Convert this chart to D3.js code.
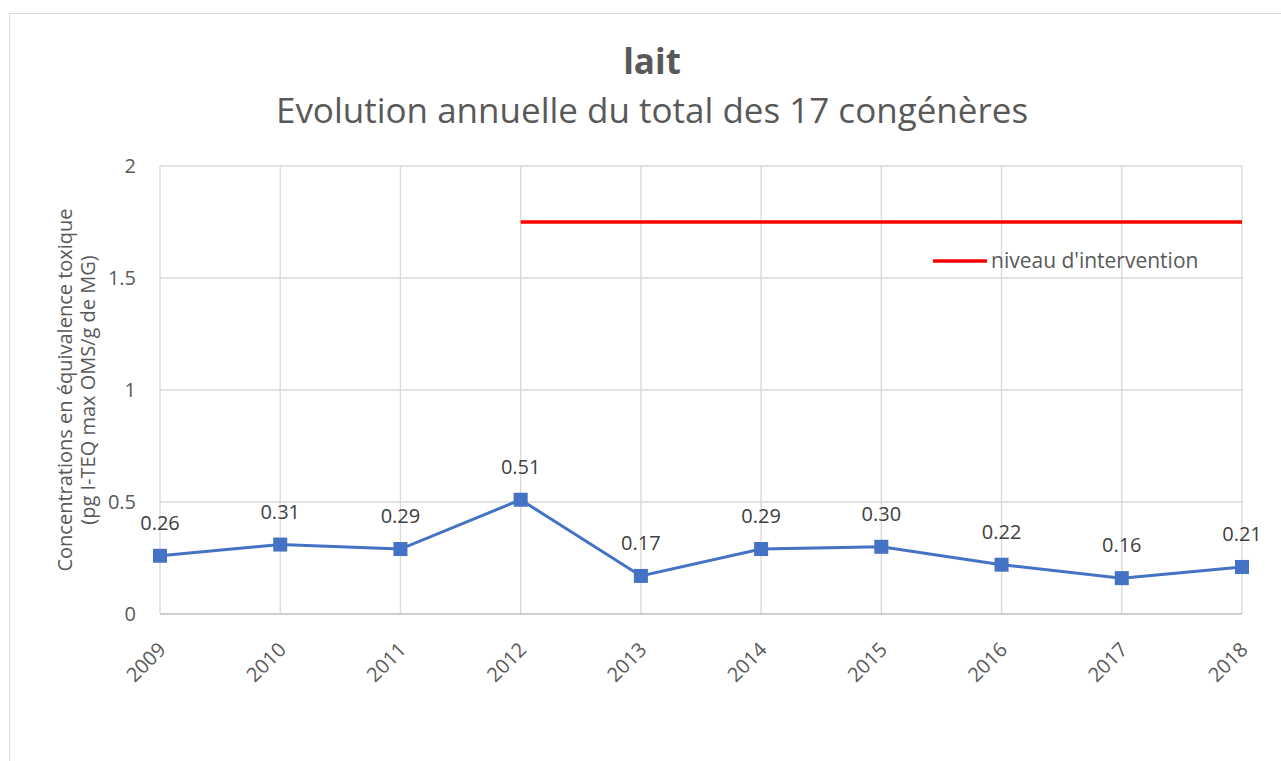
<!DOCTYPE html>
<html>
<head>
<meta charset="utf-8">
<script src="https://cdn.jsdelivr.net/npm/d3@7"></script>
<style>
  body { margin: 0; background: #fff; }
  text { font-family: "Open Sans", "Noto Sans", sans-serif; }
</style>
</head>
<body>
<svg id="chart" width="1281" height="761"></svg>
<script>
const years = ['2009', '2010', '2011', '2012', '2013', '2014', '2015', '2016', '2017', '2018']
const totals = [0.26, 0.31, 0.29, 0.51, 0.17, 0.29, 0.30, 0.22, 0.16, 0.21]
const interventionYears = ['2012', '2018']
const interventionLevel = 1.75
const yTicks = [0, 0.5, 1, 1.5, 2]

const w = 1281
const h = 761
const margin = {top: 166, right: 39, bottom: 147, left: 160}

const svg = d3.select('#chart')

// chart frame
svg.append('rect')
    .attr('x', 9.5)
    .attr('y', 13.5)
    .attr('width', 1300)
    .attr('height', 800)
    .attr('fill', '#fff')
    .attr('stroke', '#d9d9d9')

const x = d3.scalePoint()
    .domain(years)
    .range([margin.left, w - margin.right])

const y = d3.scaleLinear()
    .domain([0, 2])
    .range([h - margin.bottom, margin.top])

// horizontal grid
svg.append('g')
    .selectAll('line')
    .data(yTicks.filter(d => d > 0))
    .enter()
    .append('line')
    .attr('x1', margin.left)
    .attr('x2', w - margin.right)
    .attr('y1', d => y(d))
    .attr('y2', d => y(d))
    .attr('stroke', '#d9d9d9')
    .attr('stroke-width', 1.3)

// vertical grid
svg.append('g')
    .selectAll('line')
    .data(years)
    .enter()
    .append('line')
    .attr('x1', d => x(d))
    .attr('x2', d => x(d))
    .attr('y1', y(2))
    .attr('y2', y(0))
    .attr('stroke', '#d9d9d9')
    .attr('stroke-width', 1.3)

// x axis line
svg.append('line')
    .attr('x1', margin.left)
    .attr('x2', w - margin.right)
    .attr('y1', y(0))
    .attr('y2', y(0))
    .attr('stroke', '#bfbfbf')
    .attr('stroke-width', 1.3)

// y tick labels
svg.append('g')
    .selectAll('text')
    .data(yTicks)
    .enter()
    .append('text')
    .attr('x', 136)
    .attr('y', d => y(d) + 7)
    .attr('text-anchor', 'end')
    .attr('font-size', 20)
    .attr('fill', '#595959')
    .text(d => d)

// x tick labels
svg.append('g')
    .selectAll('text')
    .data(years)
    .enter()
    .append('text')
    .attr('transform', d => `translate(${x(d) + 7}, ${y(0) + 37}) rotate(-45)`)
    .attr('text-anchor', 'end')
    .attr('font-size', 20)
    .attr('fill', '#595959')
    .text(d => d)

// intervention level
svg.append('line')
    .attr('x1', x(interventionYears[0]))
    .attr('x2', x(interventionYears[1]))
    .attr('y1', y(interventionLevel))
    .attr('y2', y(interventionLevel))
    .attr('stroke', '#ff0000')
    .attr('stroke-width', 3.5)

// series line
const line = d3.line()
    .x((d, i) => x(years[i]))
    .y(d => y(d))

svg.append('path')
    .datum(totals)
    .attr('d', line)
    .attr('fill', 'none')
    .attr('stroke', '#4472c4')
    .attr('stroke-width', 3)

svg.append('g')
    .selectAll('rect')
    .data(totals)
    .enter()
    .append('rect')
    .attr('x', (d, i) => x(years[i]) - 7)
    .attr('y', d => y(d) - 7)
    .attr('width', 14)
    .attr('height', 14)
    .attr('fill', '#4472c4')

svg.append('g')
    .selectAll('text')
    .data(totals)
    .enter()
    .append('text')
    .attr('x', (d, i) => x(years[i]))
    .attr('y', d => y(d) - 26)
    .attr('text-anchor', 'middle')
    .attr('font-size', 20)
    .attr('fill', '#404040')
    .text(d => d.toFixed(2))

// legend
svg.append('line')
    .attr('x1', 933)
    .attr('x2', 987)
    .attr('y1', 261)
    .attr('y2', 261)
    .attr('stroke', '#ff0000')
    .attr('stroke-width', 3.5)

svg.append('text')
    .attr('x', 991)
    .attr('y', 268)
    .attr('font-size', 21)
    .attr('fill', '#595959')
    .text("niveau d'intervention")

// titles
svg.append('text')
    .attr('x', 652)
    .attr('y', 74)
    .attr('text-anchor', 'middle')
    .attr('font-size', 35)
    .attr('font-weight', 'bold')
    .attr('fill', '#595959')
    .text('lait')

svg.append('text')
    .attr('x', 652)
    .attr('y', 123)
    .attr('text-anchor', 'middle')
    .attr('font-size', 35)
    .attr('fill', '#595959')
    .text('Evolution annuelle du total des 17 congénères')

// y axis title
const yTitle = svg.append('text')
    .attr('transform', `translate(72, ${y(1)}) rotate(-90)`)
    .attr('text-anchor', 'middle')
    .attr('font-size', 20)
    .attr('fill', '#595959')

yTitle.append('tspan')
    .attr('x', 0)
    .attr('dy', 0)
    .text('Concentrations en équivalence toxique')

yTitle.append('tspan')
    .attr('x', 0)
    .attr('dy', 23)
    .text('(pg I-TEQ max OMS/g de MG)')
</script>
</body>
</html>
